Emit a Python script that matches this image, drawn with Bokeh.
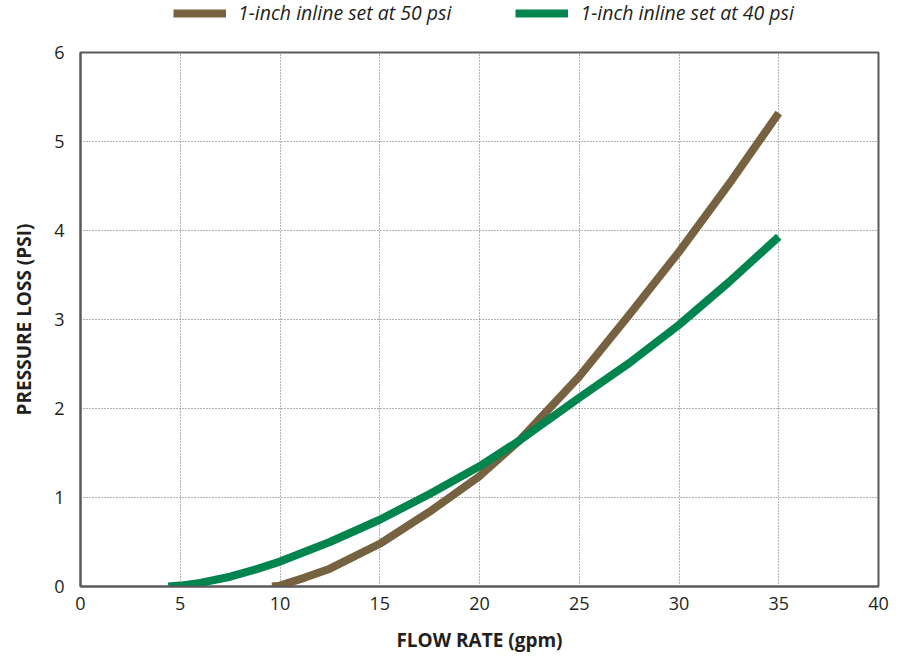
from bokeh.plotting import figure
from bokeh.models import Legend, LegendItem, FixedTicker, Range1d
from bokeh.layouts import column
from bokeh.embed import file_html
from bokeh.resources import INLINE

# Data
flow_50 = [9.6, 10, 11.25, 12.5, 15, 17.5, 20, 22, 25, 27.5, 30, 32.5, 35]
loss_50 = [0.0, 0.01, 0.1, 0.2, 0.48, 0.84, 1.24, 1.64, 2.36, 3.05, 3.76, 4.52, 5.32]

flow_40 = [4.4, 5, 6, 7.5, 8.75, 10, 12.5, 15, 17.5, 20, 22, 25, 27.5, 30, 32.5, 35]
loss_40 = [0.0, 0.01, 0.04, 0.11, 0.19, 0.28, 0.5, 0.75, 1.04, 1.35, 1.64, 2.12, 2.51, 2.94, 3.42, 3.93]

x_ticks = [0, 5, 10, 15, 20, 25, 30, 35, 40]
y_ticks = [0, 1, 2, 3, 4, 5, 6]

label_50 = "1-inch inline set at 50 psi"
label_40 = "1-inch inline set at 40 psi"
color_50 = "#766240"
color_40 = "#00854f"

# ---- legend strip on top ----
leg = figure(width=893, height=38, output_backend="svg", toolbar_location=None,
             x_range=Range1d(0, 1), y_range=Range1d(0, 1),
             min_border_left=80, min_border_right=15, min_border_top=0, min_border_bottom=0)
leg.axis.visible = False
leg.grid.visible = False
leg.outline_line_color = None
# proxy glyphs lying outside the strip's ranges, used only for legend swatches
l50 = leg.line([5, 6], [5, 6], line_color=color_50, line_width=8, line_cap="butt")
l40 = leg.line([5, 6], [5, 6], line_color=color_40, line_width=8, line_cap="butt")
legend = Legend(items=[LegendItem(label=label_50, renderers=[l50]),
                       LegendItem(label=label_40, renderers=[l40])],
                orientation="horizontal", location=(93, 12),
                glyph_width=53, glyph_height=20, label_standoff=12, spacing=64,
                padding=0, margin=0, border_line_color=None,
                background_fill_alpha=0,
                label_text_font="Open Sans", label_text_font_style="italic",
                label_text_font_size="19.5px", label_text_color="#231f20")
leg.add_layout(legend, "center")

# ---- main chart ----
p = figure(width=893, height=617, output_backend="svg", toolbar_location=None,
           x_range=Range1d(0, 40), y_range=Range1d(0, 6),
           min_border_left=80, min_border_right=15, min_border_top=14, min_border_bottom=64)

p.line(flow_50, loss_50, line_color=color_50, line_width=8, line_cap="butt", line_join="round")
p.line(flow_40, loss_40, line_color=color_40, line_width=8, line_cap="butt", line_join="round")

p.outline_line_color = "#5a5a5a"
p.outline_line_width = 2

for ax in (p.xaxis, p.yaxis):
    ax.axis_line_color = "#5a5a5a"
    ax.axis_line_width = 2
    ax.major_tick_line_color = None
    ax.minor_tick_line_color = None
    ax.major_label_text_font = "Open Sans"
    ax.major_label_text_font_size = "18px"
    ax.major_label_text_color = "#231f20"
    ax.axis_label_text_font = "Open Sans"
    ax.axis_label_text_font_style = "bold"
    ax.axis_label_text_font_size = "19px"
    ax.axis_label_text_color = "#231f20"

p.xaxis.ticker = FixedTicker(ticks=x_ticks)
p.yaxis.ticker = FixedTicker(ticks=y_ticks)
p.xaxis.major_label_standoff = 4
p.yaxis.major_label_standoff = 10
p.xaxis.axis_label = "FLOW RATE (gpm)"
p.yaxis.axis_label = "PRESSURE LOSS (PSI)"
p.xaxis.axis_label_standoff = 14
p.yaxis.axis_label_standoff = 14

p.xgrid.ticker = FixedTicker(ticks=x_ticks[1:-1])
p.ygrid.ticker = FixedTicker(ticks=y_ticks[1:-1])
for g in (p.xgrid, p.ygrid):
    g.grid_line_color = "#666666"
    g.grid_line_dash = "1 2"
    g.grid_line_width = 1

layout = column(leg, p, spacing=0)

open("out.html", "w").write(file_html(layout, INLINE))
